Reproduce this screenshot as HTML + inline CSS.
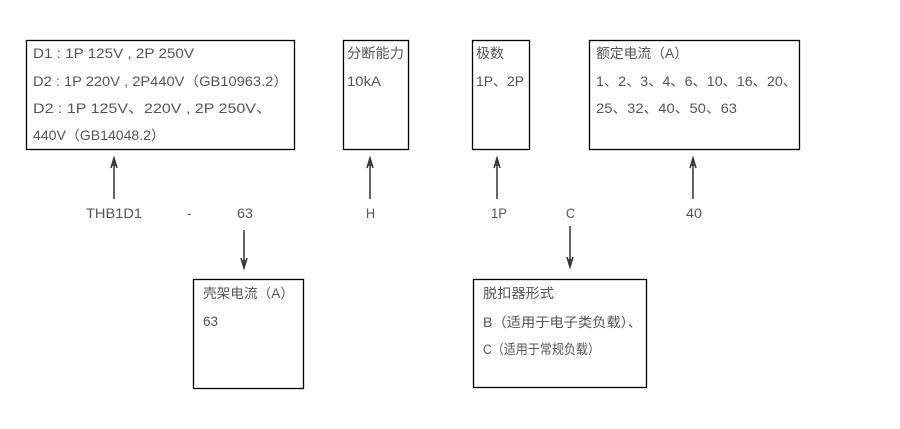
<!DOCTYPE html>
<html>
<head>
<meta charset="utf-8">
<style>
html,body{margin:0;padding:0;background:#fff;}
svg{display:block;}
text{font-family:"Liberation Sans","Noto Sans CJK SC",sans-serif;font-size:13.5px;fill:#555;}
</style>
</head>
<body>
<svg width="900" height="429" viewBox="0 0 900 429" xmlns="http://www.w3.org/2000/svg">
<g fill="none" stroke="#000" stroke-width="1.3">
<rect x="26.5" y="40.5" width="268" height="109"/>
<rect x="343.5" y="40.5" width="65" height="109"/>
<rect x="472.5" y="40.5" width="57" height="109"/>
<rect x="589.5" y="40.5" width="210" height="109"/>
<rect x="193.5" y="279.5" width="110" height="109"/>
<rect x="473.5" y="279.5" width="173" height="108"/>
</g>
<g stroke="#333" stroke-width="1.5" fill="none">
<line x1="114" y1="199" x2="114" y2="160"/>
<path d="M111,168 L114,158 L117,168 M112,165 L116,165"/>
<line x1="370" y1="199" x2="370" y2="160"/>
<path d="M367,168 L370,158 L373,168 M368,165 L372,165"/>
<line x1="497" y1="199" x2="497" y2="160"/>
<path d="M494,168 L497,158 L500,168 M495,165 L499,165"/>
<line x1="693" y1="199" x2="693" y2="160"/>
<path d="M690,168 L693,158 L696,168 M691,165 L695,165"/>
<line x1="244" y1="230" x2="244" y2="266"/>
<path d="M241,258 L244,268 L247,258 M242,261 L246,261"/>
<line x1="570" y1="226" x2="570" y2="265"/>
<path d="M567,257 L570,267 L573,257 M568,260 L572,260"/>
</g>
<text x="33" y="58" textLength="161" lengthAdjust="spacingAndGlyphs">D1 : 1P 125V , 2P 250V</text>
<text x="33" y="86" textLength="255" lengthAdjust="spacingAndGlyphs">D2 : 1P 220V , 2P440V（GB10963.2）</text>
<text x="33" y="113" textLength="239" lengthAdjust="spacingAndGlyphs">D2 : 1P 125V、220V , 2P 250V、</text>
<text x="33" y="140" textLength="132" lengthAdjust="spacingAndGlyphs">440V（GB14048.2）</text>
<text x="347" y="58" textLength="57" lengthAdjust="spacingAndGlyphs">分断能力</text>
<text x="347" y="86" textLength="34" lengthAdjust="spacingAndGlyphs">10kA</text>
<text x="476" y="58" textLength="28" lengthAdjust="spacingAndGlyphs">极数</text>
<text x="476" y="86" textLength="48" lengthAdjust="spacingAndGlyphs">1P、2P</text>
<text x="596" y="58" textLength="92" lengthAdjust="spacingAndGlyphs">额定电流（A）</text>
<text x="596" y="86" textLength="201" lengthAdjust="spacingAndGlyphs">1、2、3、4、6、10、16、20、</text>
<text x="596" y="113" textLength="141" lengthAdjust="spacingAndGlyphs">25、32、40、50、63</text>
<text x="203" y="298" textLength="91" lengthAdjust="spacingAndGlyphs">壳架电流（A）</text>
<text x="203" y="326" textLength="15" lengthAdjust="spacingAndGlyphs">63</text>
<text x="483" y="298" textLength="71" lengthAdjust="spacingAndGlyphs">脱扣器形式</text>
<text x="483" y="327" textLength="159" lengthAdjust="spacingAndGlyphs">B（适用于电子类负载）、</text>
<text x="483" y="354" textLength="117" lengthAdjust="spacingAndGlyphs">C（适用于常规负载）</text>
<text x="86" y="218" textLength="56" lengthAdjust="spacingAndGlyphs">THB1D1</text>
<text x="187" y="218">-</text>
<text x="237" y="218" textLength="16" lengthAdjust="spacingAndGlyphs">63</text>
<text x="366" y="218" textLength="9" lengthAdjust="spacingAndGlyphs">H</text>
<text x="491" y="218" textLength="16" lengthAdjust="spacingAndGlyphs">1P</text>
<text x="566" y="218" textLength="9" lengthAdjust="spacingAndGlyphs">C</text>
<text x="686" y="218" textLength="16" lengthAdjust="spacingAndGlyphs">40</text>
</svg>
</body>
</html>
